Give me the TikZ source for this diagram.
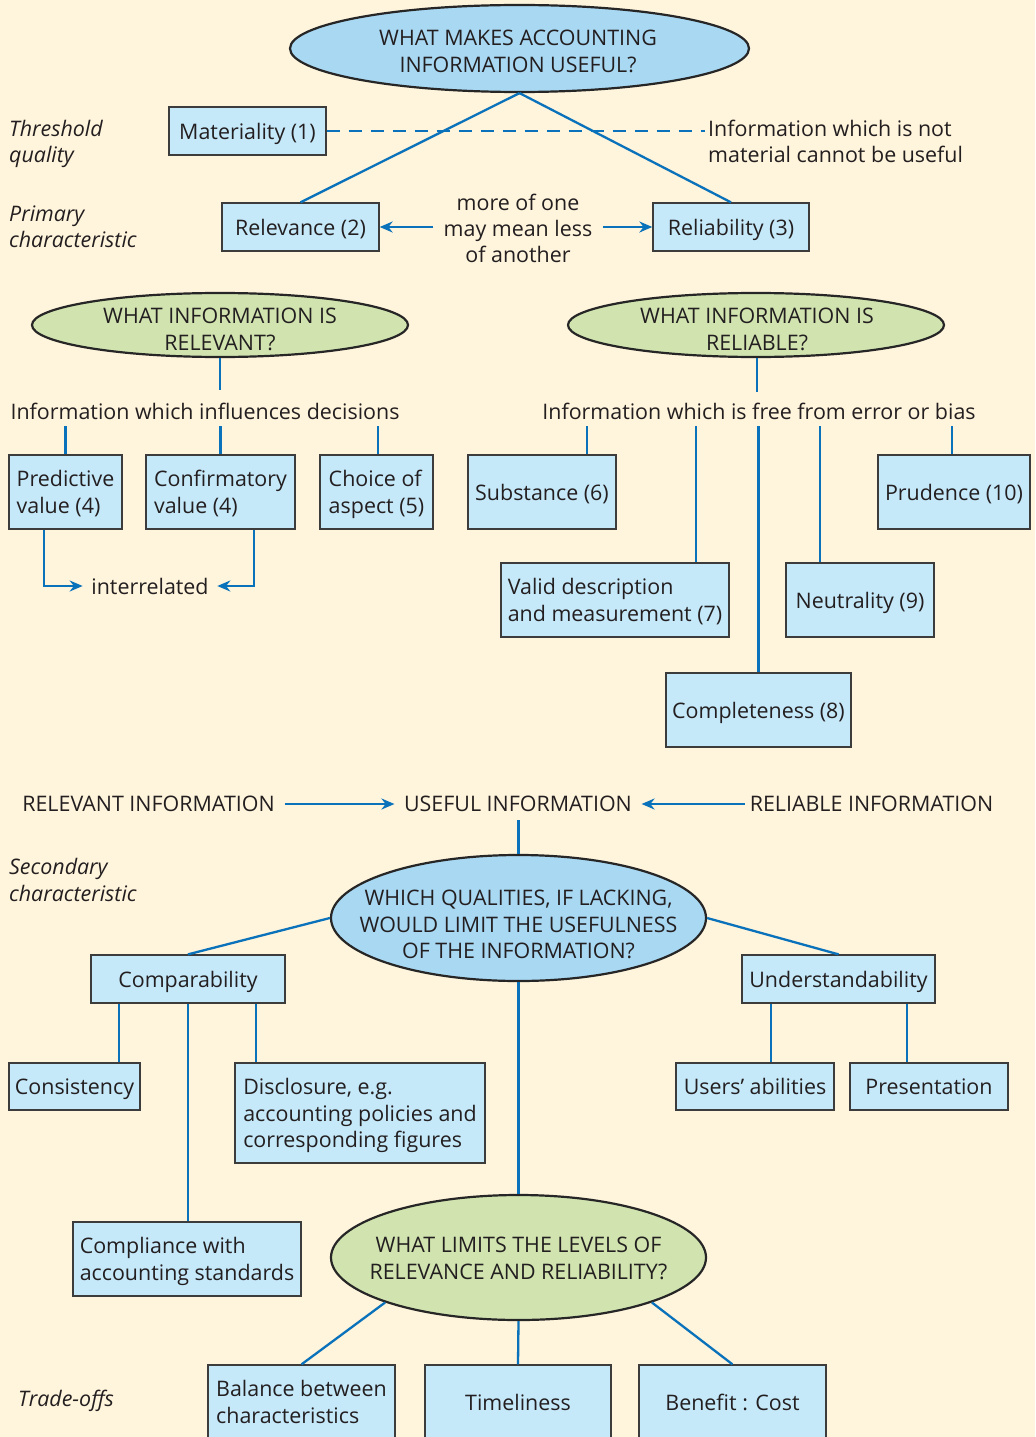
\documentclass[tikz,border=0pt]{standalone}
\usepackage{fontspec}
\setmainfont{Open Sans}
\usetikzlibrary{shapes.geometric,arrows.meta}
\definecolor{bg}{HTML}{FFF4DC}
\definecolor{boxfill}{HTML}{C6E9FA}
\definecolor{blueell}{HTML}{A9D8F3}
\definecolor{greenell}{HTML}{D1E4B0}
\definecolor{lineblue}{HTML}{0A72BA}
\definecolor{txt}{HTML}{231F20}
\definecolor{edge}{HTML}{3C3C3C}
\tikzset{
  bx/.style={draw=edge, line width=1.3bp, fill=boxfill, inner sep=0pt, align=left, text depth=0pt},
  ell/.style={ellipse, draw=black!85, line width=2.2bp, inner sep=0pt},
  ln/.style={draw=lineblue, line width=2.3bp},
  arr/.style={ln, -{Stealth[length=13bp,width=11bp]}},
  lab/.style={anchor=west, align=left, inner sep=0pt, text depth=0pt, font=\fontsize{21.5}{26.5}\selectfont\itshape},
  tx/.style={align=center, inner sep=0pt}
}
\begin{document}
\begin{tikzpicture}[x=1bp,y=-1bp, font=\fontsize{21.5}{26.5}\selectfont, text=txt]
\useasboundingbox (0,0) rectangle (1035,1437);
\clip (0,0) rectangle (1035,1437);
\fill[bg] (0,0) rectangle (1035,1437);

% side labels
\node[lab] (l1) at (9,141.5) {Threshold\\quality};
\node[lab] (l2) at (9,226.5) {Primary\\characteristic};
\node[lab] (l3) at (9,880) {Secondary\\characteristic};
\node[lab] (l4) at (18,1398) {Trade-offs};

% top question
\node[ell, fill=blueell, minimum width=459bp, minimum height=87bp] (q1) at (519.5,48.5) {};
\node[tx] (q1t) at (518,51.5) {WHAT MAKES ACCOUNTING\\INFORMATION USEFUL?};

\node[bx, minimum width=157bp, minimum height=48bp] (mat) at (247.5,131) {Materiality (1)};
\node[anchor=west, align=left, inner sep=3bp] (matnote) at (705,141.5) {Information which is not\\material cannot be useful};
\draw[ln, dash pattern=on 13bp off 9bp] (mat.east) -- (mat.east -| matnote.west);

\node[bx, minimum width=157bp, minimum height=48bp] (rel) at (300.5,227) {Relevance (2)};
\node[bx, minimum width=156bp, minimum height=48bp] (rlb) at (731,227) {Reliability (3)};
\node[tx, inner xsep=10bp] (more) at (518,228.5) {more of one\\may mean less\\of another};
\draw[arr] (more.west |- rel.east) -- (rel.east);
\draw[arr] (more.east |- rlb.west) -- (rlb.west);
\draw[ln] (q1.south) -- (rel.north);
\draw[ln] (q1.south) -- (rlb.north);

% relevant branch
\node[ell, fill=greenell, minimum width=376bp, minimum height=64bp] (q2) at (220,325) {};
\node[tx] (q2t) at (220,329.5) {WHAT INFORMATION IS\\RELEVANT?};
\coordinate (c2) at (220,390);
\draw[ln] (q2.south) -- (c2);
\node[tx] (relinfo) at (205,411) {Information which influences decisions};

\node[bx, minimum width=113bp, minimum height=74bp] (pred) at (65.5,492) {Predictive\\value (4)};
\node[bx, minimum width=149bp, minimum height=74bp] (conf) at (220.5,492) {Confirmatory\\value (4)};
\node[bx, minimum width=113bp, minimum height=74bp] (choice) at (376.5,492) {Choice of\\aspect (5)};
\draw[ln] (pred.north) -- ++(0,-28);
\draw[ln] (conf.north) -- ++(0,-28);
\draw[ln] ([xshift=1.5bp]choice.north) -- ++(0,-28);
\node[tx, inner xsep=8.5bp] (inter) at (150,586) {interrelated};
\draw[arr] ([xshift=-21.5bp]pred.south) |- (inter.west);
\draw[arr] ([xshift=33.5bp]conf.south) |- (inter.east);

% reliable branch
\node[ell, fill=greenell, minimum width=376bp, minimum height=64bp] (q3r) at (756,325) {};
\node[tx] (q3rt) at (757,329.5) {WHAT INFORMATION IS\\RELIABLE?};
\coordinate (c3) at (757,392);
\draw[ln] (q3r.south -| c3) -- (c3);
\node[tx] (rlbinfo) at (759,411) {Information which is free from error or bias};

\node[bx, minimum width=148bp, minimum height=74bp] (sub) at (542,492) {Substance (6)};
\node[bx, minimum width=152bp, minimum height=74bp] (prud) at (954,492) {Prudence (10)};
\node[bx, minimum width=228bp, minimum height=74bp] (valid) at (615,600) {Valid description\\and measurement (7)};
\node[bx, minimum width=148bp, minimum height=74bp] (neut) at (860,600) {Neutrality (9)};
\node[bx, minimum width=185bp, minimum height=74bp] (compl8) at (758.5,710) {Completeness (8)};
\draw[ln] ([xshift=45bp]sub.north) -- ++(0,-28);
\draw[ln] ([xshift=-2bp]prud.north) -- ++(0,-28);
\draw[ln] ([xshift=81bp]valid.north) -- ++(0,-136);
\draw[ln] ([xshift=-40bp]neut.north) -- ++(0,-136);
\draw[ln] (compl8.north) -- ++(0,-246);

% useful information row
\node[tx, inner xsep=10bp] (relI) at (148.5,804) {RELEVANT INFORMATION};
\node[tx, inner xsep=9.5bp] (useI) at (518,804) {USEFUL INFORMATION};
\node[tx, inner xsep=5bp] (rlbI) at (871.5,804) {RELIABLE INFORMATION};
\draw[arr] (relI.east) -- (useI.west);
\draw[arr] (rlbI.west) -- (useI.east);

% secondary
\node[ell, fill=blueell, minimum width=375bp, minimum height=126bp] (q4) at (518.5,918) {};
\node[tx] (q4t) at (518.5,924.5) {WHICH QUALITIES, IF LACKING,\\WOULD LIMIT THE USEFULNESS\\OF THE INFORMATION?};
\draw[ln] (q4.north) -- ++(0,-34);

\node[bx, minimum width=194bp, minimum height=48bp] (comp) at (188,979) {Comparability};
\node[bx, minimum width=193bp, minimum height=48bp] (und) at (838.5,979) {Understandability};
\draw[ln] (q4.west) -- (comp.north);
\draw[ln] (q4.east) -- (und.north);

\node[bx, minimum width=131bp, minimum height=47bp] (cons) at (74.5,1086.5) {Consistency};
\node[bx, minimum width=250bp, minimum height=100bp] (disc) at (360,1113) {Disclosure, e.g.\\accounting policies and\\corresponding figures};
\node[bx, minimum width=228bp, minimum height=74bp] (compl) at (187,1259) {Compliance with\\accounting standards};
\node[bx, minimum width=158bp, minimum height=47bp] (users) at (755,1086.5) {Users’ abilities};
\node[bx, minimum width=158bp, minimum height=47bp] (pres) at (929,1086.5) {Presentation};
\coordinate (cc1) at ([xshift=-69bp]comp.south);
\coordinate (cc2) at ([xshift=68bp]comp.south);
\coordinate (cu1) at ([xshift=-67.5bp]und.south);
\coordinate (cu2) at ([xshift=68.5bp]und.south);
\draw[ln] (cc1) -- (cc1 |- cons.north);
\draw[ln] (cc2) -- (cc2 |- disc.north);
\draw[ln] (comp.south) -- (comp.south |- compl.north);
\draw[ln] (cu1) -- (cu1 |- users.north);
\draw[ln] (cu2) -- (cu2 |- pres.north);

% trade-offs
\node[ell, fill=greenell, minimum width=375bp, minimum height=125bp] (q5) at (518.5,1257.5) {};
\node[tx] (q5t) at (518.5,1258.5) {WHAT LIMITS THE LEVELS OF\\RELEVANCE AND RELIABILITY?};
\draw[ln] (q4.south) -- (q5.north);

\node[bx, minimum width=187bp, minimum height=74bp] (bal) at (301.5,1402) {Balance between\\characteristics};
\node[bx, minimum width=186bp, minimum height=74bp] (time) at (518,1402) {Timeliness};
\node[bx, minimum width=187bp, minimum height=74bp] (ben) at (732.5,1402) {Benefit : Cost};
\draw[ln] (q5.south west) -- (bal.north);
\draw[ln] (q5.south) -- (time.north);
\draw[ln] (q5.south east) -- (ben.north);
\end{tikzpicture}
\end{document}
